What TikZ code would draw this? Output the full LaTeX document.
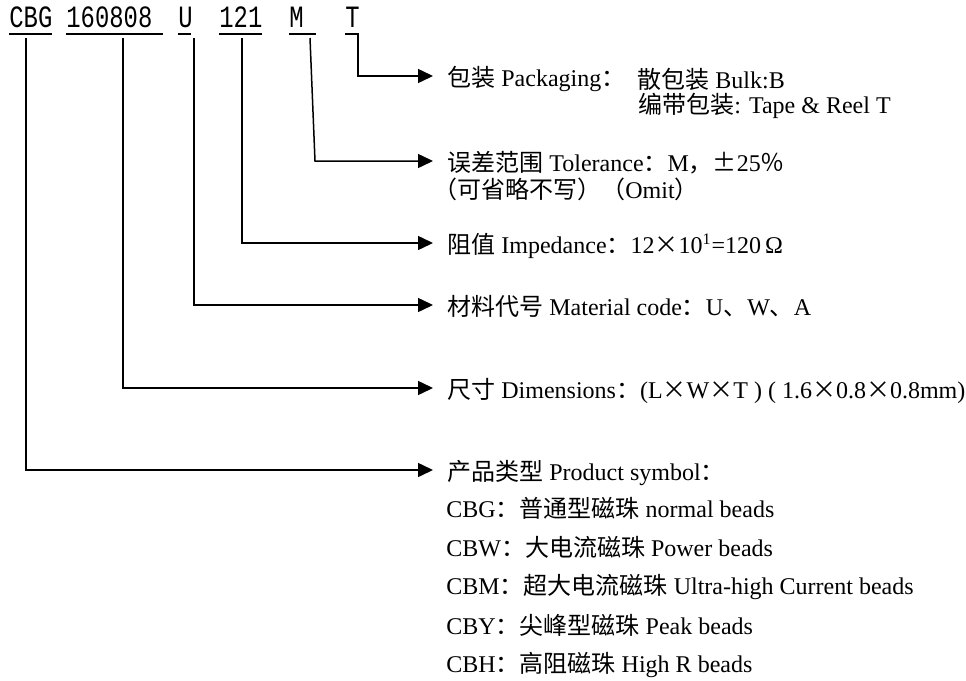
\documentclass[tikz,border=0pt]{standalone}
\usepackage{fontspec}
\setmainfont{Liberation Serif}
\newfontfamily\zhfont[CharacterWidth=Full]{Noto Sans CJK SC}
\newfontfamily\codefont[FakeStretch=0.77]{Liberation Mono}
\newcommand{\zh}[1]{{\zhfont #1}}
\usetikzlibrary{arrows.meta}

\begin{document}
\begin{tikzpicture}[line cap=butt,line join=miter,>={Triangle[length=7.5pt,width=7pt]},x=0.5pt,y=-0.5pt,
		conn/.style={line width=0.75pt,->},
		uline/.style={line width=1.2pt},
		code/.style={anchor=base west,inner sep=0pt,font=\codefont\fontsize{15.5}{18}\selectfont},
		lbl/.style={anchor=west,inner xsep=7pt,inner ysep=0pt,text height=1.1em,text depth=0.1em,font=\fontsize{12}{14}\selectfont},
		txt/.style={anchor=west,inner sep=0pt,font=\fontsize{12}{14}\selectfont}]
	\useasboundingbox (0,0) rectangle (966,681);
	\node[code] (cbg) at (9,27) {CBG};
	\node[code] (size) at (66,27) {160808};
	\node[code] (mat) at (178,27) {U};
	\node[code] (imp) at (219,27) {121};
	\node[code] (tol) at (289,27) {M};
	\node[code] (pkg) at (345,27) {T};
	\draw [uline] (9,34)-- (52,34);
	\draw [uline] (66,34)-- (163,34);
	\draw [uline] (178,34)-- (191,34);
	\draw [uline] (219,34)-- (262,34);
	\draw [uline] (289,34)-- (316,34);
	\draw [uline] (345,34)-- (358.5,34);
	\coordinate (pCBG) at (26,38);
	\coordinate (pSize) at (123,38);
	\coordinate (pMat) at (194,38);
	\coordinate (pImp) at (242,38);
	\coordinate (pTol) at (310,38);
	\coordinate (kTol) at (315,161);
	\coordinate (pPkg) at (358,34);
	\node[lbl] (lPkg) at (433,76) {\zh{包装} Packaging\zh{：}};
	\node[txt] (lBulk) at (637,79) {\zh{散包装} Bulk:B};
	\node[txt] (lReel) at (638,106) {\zh{编带包装}: Tape \& Reel T};
	\node[lbl] (lTol) at (433,161) {\zh{误差范围} Tolerance\zh{：}M\zh{，±}25\zh{％}};
	\node[txt] (lOmit) at (433,189) {\zh{（可省略不写）（}Omit\zh{）}};
	\node[lbl] (lImp) at (433,243) {\zh{阻值} Impedance\zh{：}12\zh{×}10\textsuperscript{1}=120\,Ω};
	\node[lbl] (lMat) at (433,305) {\zh{材料代号} Material code\zh{：}U\zh{、}W\zh{、}A};
	\node[lbl] (lSize) at (433,388) {\zh{尺寸} Dimensions\zh{：}(L\zh{×}W\zh{×}T ) ( 1.6\zh{×}0.8\zh{×}0.8mm)};
	\node[lbl] (lCBG) at (433,470) {\zh{产品类型} Product symbol\zh{：}};
	\foreach \kind/\zhname/\enname [count=\i] in {CBG/普通型磁珠/normal beads,CBW/大电流磁珠/Power beads,CBM/超大电流磁珠/Ultra-high Current beads,CBY/尖峰型磁珠/Peak beads,CBH/高阻磁珠/High R beads}
		\node[txt] (t\kind) at (446,469+39.2*\i) {\kind\zh{：\zhname} \enname};
	\draw [conn] (pPkg) |- (lPkg.west);
	\draw [conn] (pTol) -- (kTol) -- (lTol.west);
	\draw [conn] (pImp) |- (lImp.west);
	\draw [conn] (pMat) |- (lMat.west);
	\draw [conn] (pSize) |- (lSize.west);
	\draw [conn] (pCBG) |- (lCBG.west);
\end{tikzpicture}
\end{document}
